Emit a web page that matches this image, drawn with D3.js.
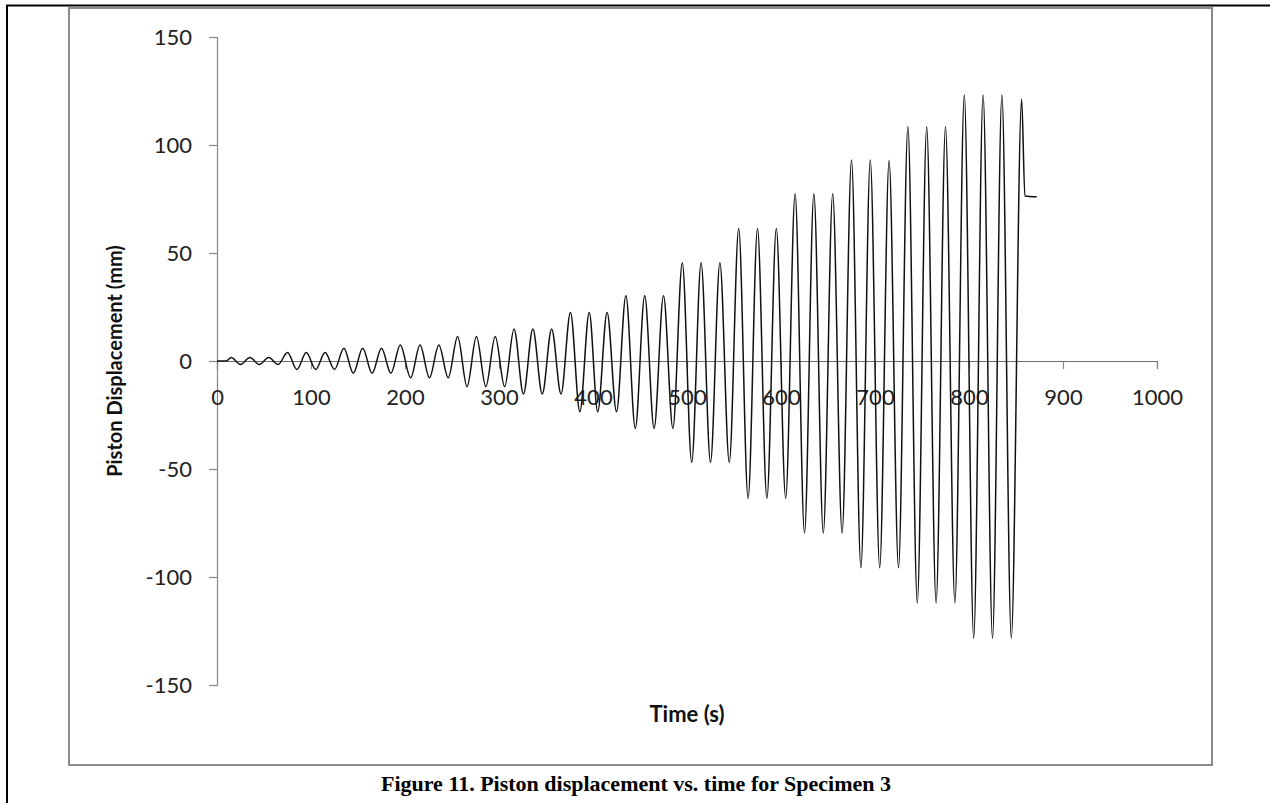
<!DOCTYPE html>
<html>
<head>
<meta charset="utf-8">
<script src="https://cdn.jsdelivr.net/npm/d3@7"></script>
<style>
  html, body { margin: 0; padding: 0; background: #fff; }
  svg { display: block; }
</style>
</head>
<body>
<div id="chart"></div>
<script>
// peaks and troughs (time in s, displacement in mm)
var peakTimes = [15, 35, 55, 75, 95, 115, 135, 155, 175, 195, 216, 236, 256, 276, 296,
  316, 336, 356, 376, 396, 415, 435, 455, 475, 495, 515, 535, 555, 575, 595,
  615, 635, 655, 675, 695, 715, 735, 755, 775, 795, 815, 835, 856];
var peakValues = [1.6, 1.6, 1.6, 3.9, 3.9, 3.9, 5.9, 5.9, 5.9, 7.4, 7.4, 7.4,
  11.3, 11.3, 11.3, 14.8, 14.8, 14.8, 22.5, 22.5, 22.5, 30.2, 30.2, 30.2,
  45.5, 45.5, 45.5, 61.3, 61.3, 61.3, 77.4, 77.4, 77.4, 93.1, 93.1, 92.8,
  108.4, 108.4, 108.4, 123.2, 123.2, 123.2, 121.2];
var troughTimes = [25, 45, 65, 85, 105, 125, 145, 165, 185, 206, 226, 246, 266, 286,
  306, 326, 346, 366, 386, 405, 425, 445, 465, 485, 505, 525, 545, 565, 585,
  605, 625, 645, 665, 685, 705, 725, 745, 765, 785, 805, 825, 845];
var troughValues = [-1.6, -1.6, -1.6, -3.9, -3.9, -3.9, -5.7, -5.7, -5.7,
  -7.8, -7.8, -7.8, -11.9, -11.9, -11.9, -15.3, -15.3, -15.3, -23.5, -23.5, -23.5,
  -31.2, -31.2, -31.2, -46.9, -46.9, -46.9, -63.6, -63.6, -63.6, -79.6, -79.6, -79.6,
  -95.7, -95.7, -95.7, -112.0, -112.0, -112.0, -128.3, -128.3, -128.3];
// flat start and the hold at the end of the test
var leadIn = [[0, 0], [10, 0]];
var tail = [[859.5, 76.4], [872, 76]];

var xTicks = [0, 100, 200, 300, 400, 500, 600, 700, 800, 900, 1000];
var yTicks = [-150, -100, -50, 0, 50, 100, 150];

var width = 1270, height = 803;

var svg = d3.select('#chart').append('svg')
  .attr('width', width)
  .attr('height', height);

svg.append('rect')
  .attr('width', width)
  .attr('height', height)
  .attr('fill', '#fff');

// page border (black) and chart frame (grey)
svg.append('path')
  .attr('d', 'M7,803V5.5H1270')
  .attr('fill', 'none')
  .attr('stroke', '#000')
  .attr('stroke-width', 2);

svg.append('rect')
  .attr('x', 69)
  .attr('y', 8)
  .attr('width', 1143)
  .attr('height', 757)
  .attr('fill', 'none')
  .attr('stroke', '#8a8a8a')
  .attr('stroke-width', 2);

var x = d3.scaleLinear().domain([0, 1000]).range([217, 1157]);
var y = d3.scaleLinear().domain([-150, 150]).range([685, 37]);

var fontSans = 'Lato, "Open Sans", sans-serif';
var plain = function(d) { return String(d); };

var yAxis = svg.append('g')
  .attr('transform', 'translate(' + x(0) + ',0)')
  .call(d3.axisLeft(y).tickValues(yTicks).tickFormat(plain).tickSize(8).tickPadding(17));

var xAxis = svg.append('g')
  .attr('transform', 'translate(0,' + y(0) + ')')
  .call(d3.axisBottom(x).tickValues(xTicks).tickFormat(plain).tickSize(8).tickPadding(20));

[yAxis, xAxis].forEach(function(g) {
  g.select('.domain').attr('stroke', '#868686').attr('stroke-width', 1.2);
  g.selectAll('.tick line').attr('stroke', '#868686').attr('stroke-width', 1.2);
  g.selectAll('.tick text')
    .attr('fill', '#222')
    .style('font-family', fontSans)
    .style('font-size', '22px');
});
xAxis.select('.domain').attr('stroke', '#6e6e6e');

// series
var points = leadIn.slice();
peakTimes.forEach(function(t, i) {
  points.push([t, peakValues[i]]);
  if (i < troughTimes.length) points.push([troughTimes[i], troughValues[i]]);
});
points = points.concat(tail);

var line = d3.line()
  .x(function(d) { return x(d[0]); })
  .y(function(d) { return y(d[1]); })
  .curve(d3.curveMonotoneX);

svg.append('path')
  .datum(points)
  .attr('d', line)
  .attr('fill', 'none')
  .attr('stroke', '#111')
  .attr('stroke-width', 1.5);

// axis titles
svg.append('text')
  .attr('x', (x(0) + x(1000)) / 2)
  .attr('y', 716)
  .attr('text-anchor', 'middle')
  .attr('dominant-baseline', 'middle')
  .style('font-family', fontSans)
  .style('font-weight', 'bold')
  .style('font-size', '22px')
  .attr('fill', '#111')
  .text('Time (s)');

svg.append('text')
  .attr('transform', 'translate(117,' + y(0) + ') rotate(-90)')
  .attr('text-anchor', 'middle')
  .attr('dominant-baseline', 'middle')
  .style('font-family', fontSans)
  .style('font-weight', 'bold')
  .style('font-size', '20px')
  .attr('fill', '#111')
  .text('Piston Displacement (mm)');

// caption
svg.append('text')
  .attr('x', 636)
  .attr('y', 786)
  .attr('text-anchor', 'middle')
  .attr('dominant-baseline', 'middle')
  .style('font-family', '"Liberation Serif", "Times New Roman", serif')
  .style('font-weight', 'bold')
  .style('font-size', '22px')
  .attr('fill', '#000')
  .text('Figure 11. Piston displacement vs. time for Specimen 3');
</script>
</body>
</html>
